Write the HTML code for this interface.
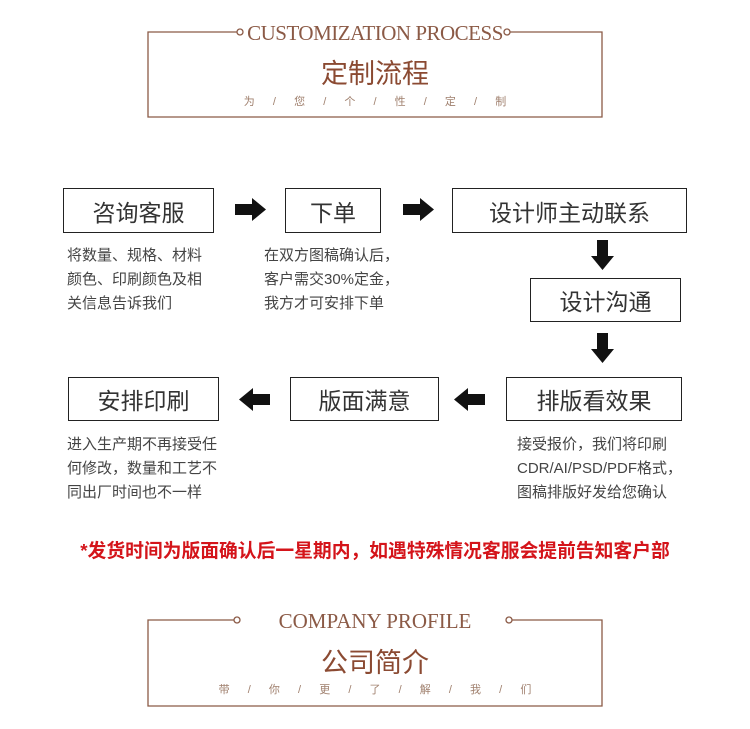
<!DOCTYPE html>
<html><head><meta charset="utf-8"><style>
body{margin:0;width:750px;height:729px;background:#fff;position:relative;overflow:hidden;font-family:"Liberation Sans","Noto Sans CJK SC",sans-serif}
.a{position:absolute}
.box{position:absolute;border:1.5px solid #222;box-sizing:border-box;display:flex;align-items:center;justify-content:center;font-size:23px;color:#333}
.desc{position:absolute;font-size:15px;line-height:24px;color:#444;white-space:nowrap}
.en{position:absolute;font-family:"Liberation Serif","Noto Serif CJK SC",serif;color:#8b5a46;font-size:21px;width:750px;text-align:center;left:0}
.cn{position:absolute;color:#8b4a32;font-size:27px;width:750px;text-align:center;left:0}
.sub{position:absolute;color:#a0806e;font-size:11px;width:750px;text-align:center;left:0;word-spacing:6px}
</style></head><body>
<svg class="a" style="left:0;top:0" width="750" height="729">
<g fill="none" stroke="#8b5a46" stroke-width="1.3">
<polyline points="237,32 148,32 148,117 602,117 602,32 510,32"/>
<circle cx="240" cy="32" r="3"/><circle cx="507" cy="32" r="3"/>
<polyline points="234,620 148,620 148,706 602,706 602,620 512,620"/>
<circle cx="237" cy="620" r="3"/><circle cx="509" cy="620" r="3"/>
</g>
<g fill="#111">
<polygon points="235,204 252,204 252,198 266,209.5 252,221 252,215 235,215"/>
<polygon points="403,204 420,204 420,198 434,209.5 420,221 420,215 403,215"/>
<polygon points="597,240 608,240 608,256 614,256 602.5,270 591,256 597,256"/>
<polygon points="597,333 608,333 608,349 614,349 602.5,363 591,349 597,349"/>
<polygon points="270,394 253,394 253,388 239,399.5 253,411 253,405 270,405"/>
<polygon points="485,394 468,394 468,388 454,399.5 468,411 468,405 485,405"/>
</g>
</svg>
<div class="en" style="top:21px;letter-spacing:-0.5px">CUSTOMIZATION PROCESS</div>
<div class="cn" style="top:52px">定制流程</div>
<div class="sub" style="top:93px">为 &nbsp;/ &nbsp;您 &nbsp;/ &nbsp;个 &nbsp;/ &nbsp;性 &nbsp;/ &nbsp;定 &nbsp;/ &nbsp;制</div>

<div class="box" style="left:63px;top:188px;width:151px;height:45px">咨询客服</div>
<div class="box" style="left:285px;top:188px;width:96px;height:45px">下单</div>
<div class="box" style="left:452px;top:188px;width:235px;height:45px">设计师主动联系</div>
<div class="box" style="left:530px;top:278px;width:151px;height:44px">设计沟通</div>
<div class="box" style="left:68px;top:377px;width:151px;height:44px">安排印刷</div>
<div class="box" style="left:290px;top:377px;width:149px;height:44px">版面满意</div>
<div class="box" style="left:506px;top:377px;width:176px;height:44px">排版看效果</div>

<div class="desc" style="left:67px;top:244px">将数量、规格、材料<br>颜色、印刷颜色及相<br>关信息告诉我们</div>
<div class="desc" style="left:264px;top:244px">在双方图稿确认后，<br>客户需交30%定金，<br>我方才可安排下单</div>
<div class="desc" style="left:67px;top:433px">进入生产期不再接受任<br>何修改，数量和工艺不<br>同出厂时间也不一样</div>
<div class="desc" style="left:517px;top:433px">接受报价，我们将印刷<br>CDR/AI/PSD/PDF格式，<br>图稿排版好发给您确认</div>

<div class="a" style="left:0;width:750px;text-align:center;top:536px;font-size:18.8px;font-weight:bold;color:#d4141a;white-space:nowrap">*发货时间为版面确认后一星期内，如遇特殊情况客服会提前告知客户部</div>

<div class="en" style="top:609px">COMPANY PROFILE</div>
<div class="cn" style="top:641px">公司简介</div>
<div class="sub" style="top:681px">带 &nbsp;/ &nbsp;你 &nbsp;/ &nbsp;更 &nbsp;/ &nbsp;了 &nbsp;/ &nbsp;解 &nbsp;/ &nbsp;我 &nbsp;/ &nbsp;们</div>
</body></html>
